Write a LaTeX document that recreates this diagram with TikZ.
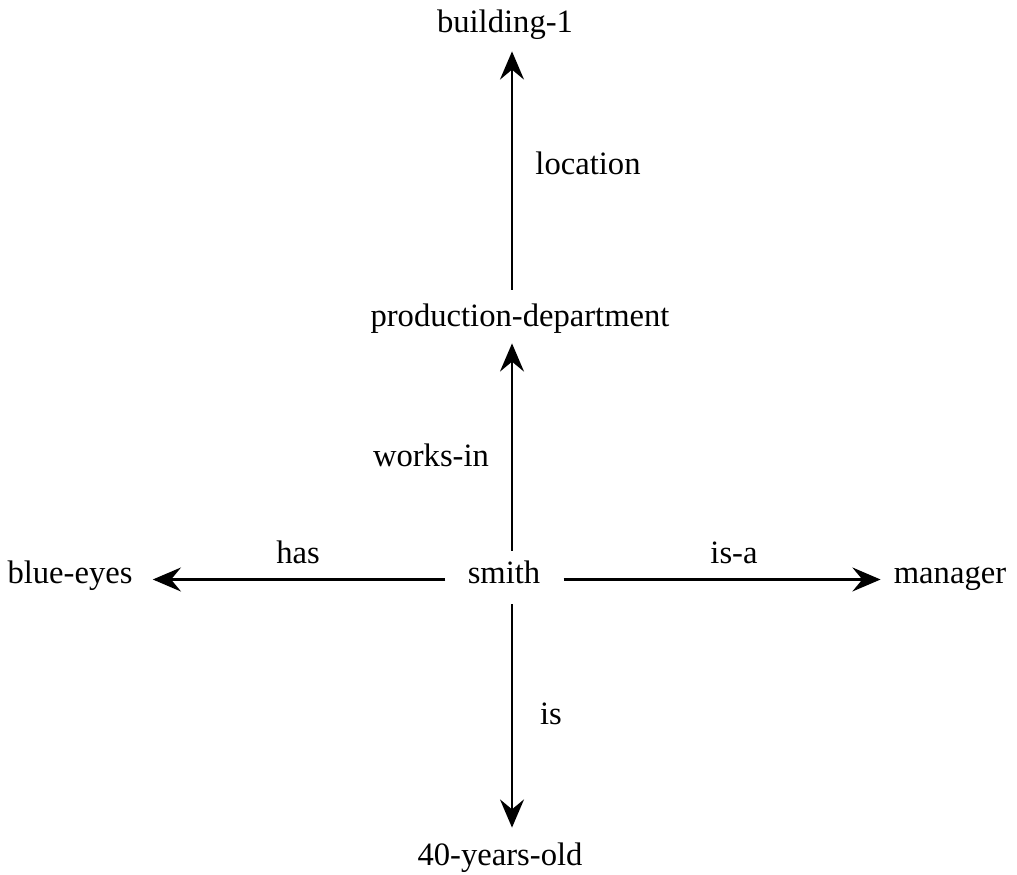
\documentclass[tikz,border=0pt]{standalone}
\usepackage{fontspec}
\setmainfont{Liberation Serif}
\usetikzlibrary{arrows.meta}
\tikzset{
  word/.style={inner sep=0pt, anchor=base, text height=0.72em, text depth=0.22em,
    font=\fontsize{23.2pt}{27pt}\selectfont},
  link/.style={line width=2.1pt, -{Stealth[length=20pt, width=17pt, inset=7pt]}}
}
\begin{document}
\begin{tikzpicture}[x=0.025cm, y=-0.025cm]
        \useasboundingbox (0,0) rectangle (1017,874);
        \coordinate (axis) at (512,0);
        \node[word] (build) at (505,33) {building-1};
        \node[word] (prod) at (520,326) {production-department};
        \node[word] (smith) at (504,583) {smith};
        \node[word] (blue) at (70,583) {blue-eyes};
        \node[word] (manager) at (950,583) {manager};
        \node[word] (old) at (500,865) {40-years-old};
        \node[word] (location) at (588,174) {location};
        \node[word] (worksin) at (431,466) {works-in};
        \node[word] (has) at (298,563) {has};
        \node[word] (isa) at (734,563) {is-a};
        \node[word] (is) at (551,724) {is};
        \draw[link, shorten <=0.65cm, shorten >=0.375cm] (prod.north -| axis) -- (build.south -| axis);
        \draw[link, shorten <=0.55cm, shorten >=0.35cm] (smith.north -| axis) -- (prod.south -| axis);
        \draw[link, shorten <=0.55cm, shorten >=0.5cm] (smith.west) -- (blue.east);
        \draw[link, shorten <=0.575cm, shorten >=0.325cm] (smith.east) -- (manager.west);
        \draw[link, shorten <=0.45cm, shorten >=0.675cm] (smith.south -| axis) -- (old.north -| axis);
\end{tikzpicture}
\end{document}
